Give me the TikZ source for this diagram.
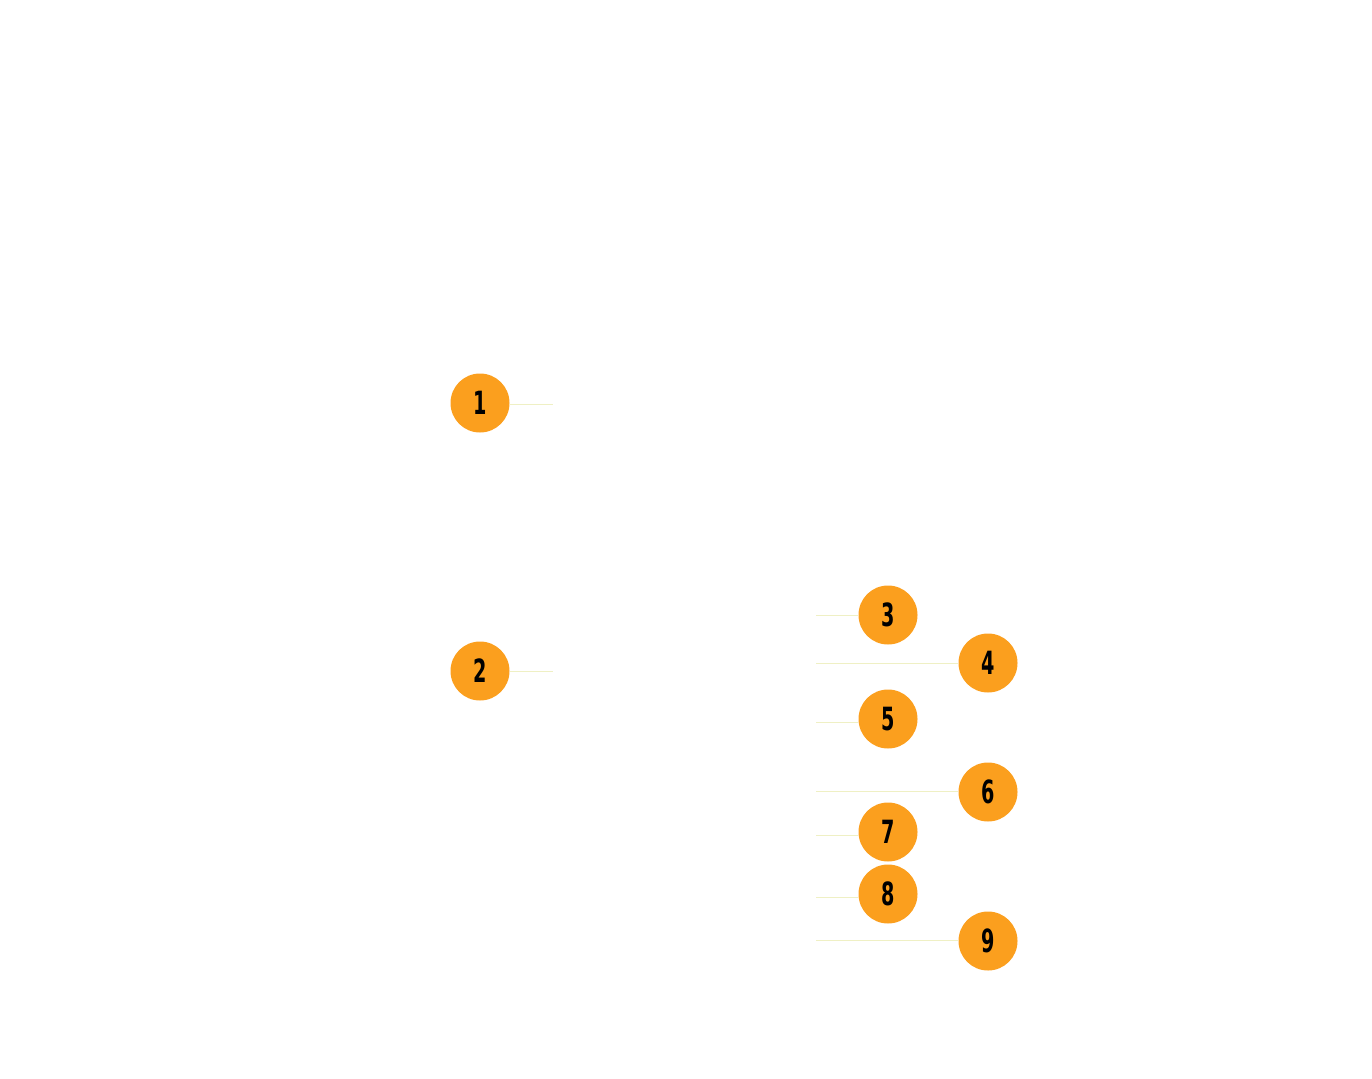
\documentclass[tikz,border=0pt]{standalone}
\usepackage{fontspec}
\setmainfont[FakeStretch=0.6]{DejaVu Sans}
\definecolor{badge}{HTML}{FB9F1E}
\definecolor{leader}{HTML}{EFF0C4}
\begin{document}
\begin{tikzpicture}[x=1pt,y=-1pt,
  badge/.style={circle,fill=badge,minimum size=59pt,inner sep=0pt,font=\fontsize{32}{32}\selectfont\bfseries,text=black},
  leader/.style={draw=leader,line width=1pt}]
\useasboundingbox (0,0) rectangle (1372,1078);
\node[badge] (b1) at (480,403) {1};
\node[badge] (b2) at (480,671) {2};
\node[badge] (b3) at (888,615) {3};
\node[badge] (b4) at (988,663) {4};
\node[badge] (b5) at (888,719) {5};
\node[badge] (b6) at (988,792) {6};
\node[badge] (b7) at (888,832) {7};
\node[badge] (b8) at (888,894) {8};
\node[badge] (b9) at (988,941) {9};
\coordinate (e1) at (553,404);
\coordinate (e2) at (553,671);
\coordinate (e3) at (816,615);
\coordinate (e4) at (816,663);
\coordinate (e5) at (816,722);
\coordinate (e6) at (816,791);
\coordinate (e7) at (816,835);
\coordinate (e8) at (816,897);
\coordinate (e9) at (816,940);
\draw[leader] (b1.east |- e1) -- (e1);
\draw[leader] (b2.east |- e2) -- (e2);
\draw[leader] (e3) -- (b3.west |- e3);
\draw[leader] (e4) -- (b4.west |- e4);
\draw[leader] (e5) -- (b5.west |- e5);
\draw[leader] (e6) -- (b6.west |- e6);
\draw[leader] (e7) -- (b7.west |- e7);
\draw[leader] (e8) -- (b8.west |- e8);
\draw[leader] (e9) -- (b9.west |- e9);
\end{tikzpicture}
\end{document}
